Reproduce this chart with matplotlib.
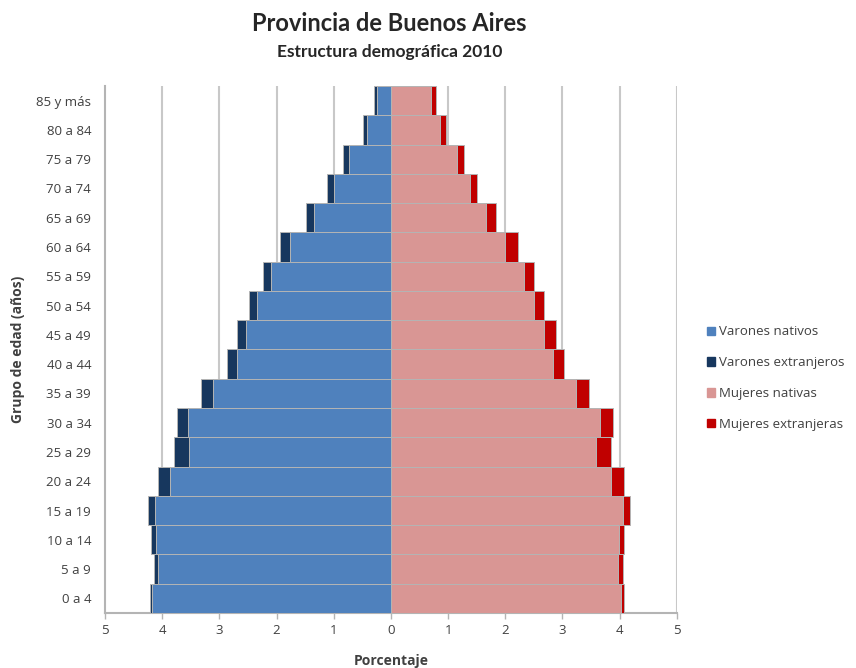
import numpy as np
import matplotlib.pyplot as plt
from matplotlib.patches import Patch

plt.rcParams['font.family'] = ['Lato', 'DejaVu Sans']
small = ['Open Sans', 'DejaVu Sans']

# grupos de edad (de abajo hacia arriba)
grupos = ['0 a 4', '5 a 9', '10 a 14', '15 a 19', '20 a 24', '25 a 29', '30 a 34',
          '35 a 39', '40 a 44', '45 a 49', '50 a 54', '55 a 59', '60 a 64',
          '65 a 69', '70 a 74', '75 a 79', '80 a 84', '85 y más']

# porcentajes sobre la población total
varones_nativos = [4.17, 4.08, 4.11, 4.12, 3.86, 3.54, 3.55, 3.12, 2.69, 2.54,
                   2.34, 2.09, 1.76, 1.35, 1.00, 0.74, 0.42, 0.25]
varones_extranjeros = [0.04, 0.07, 0.09, 0.12, 0.22, 0.26, 0.20, 0.20, 0.17, 0.16,
                       0.14, 0.15, 0.18, 0.14, 0.12, 0.09, 0.07, 0.05]
mujeres_nativas = [4.02, 3.97, 3.98, 4.05, 3.84, 3.58, 3.65, 3.24, 2.83, 2.68,
                   2.51, 2.33, 2.00, 1.66, 1.38, 1.16, 0.86, 0.70]
mujeres_extranjeras = [0.06, 0.08, 0.10, 0.13, 0.24, 0.27, 0.23, 0.23, 0.20, 0.20,
                       0.17, 0.17, 0.23, 0.18, 0.13, 0.11, 0.10, 0.09]

c_vn = '#4f81bd'
c_ve = '#17375e'
c_mn = '#d99694'
c_me = '#c00000'

fig = plt.figure(figsize=(8.56, 6.68), dpi=100)
ax = fig.add_axes([0.1227, 0.0823, 0.668, 0.789])

y = np.arange(len(grupos))
vn = np.array(varones_nativos)
mn = np.array(mujeres_nativas)
kw = dict(height=1.0, edgecolor='#b4b4b4', linewidth=0.7, zorder=3)
ax.barh(y, -vn, color=c_vn, **kw)
ax.barh(y, -np.array(varones_extranjeros), left=-vn, color=c_ve, **kw)
ax.barh(y, mn, color=c_mn, **kw)
ax.barh(y, mujeres_extranjeras, left=mn, color=c_me, **kw)

ax.set_xlim(-5, 5)
ax.set_ylim(-0.5, len(grupos) - 0.5)
ticks = np.arange(-5, 6)
ax.set_xticks(ticks)
ax.set_xticklabels([str(abs(t)) for t in ticks], color='#404040', fontsize=9.5, family=small)
ax.set_yticks(y)
ax.set_yticklabels(grupos, color='#404040', fontsize=9.5, family=small)

# líneas de grilla verticales
for t in ticks[1:]:
    ax.axvline(t, color='#c8c8c8', linewidth=1.5, zorder=1)

for s in ['top', 'right']:
    ax.spines[s].set_visible(False)
ax.spines['left'].set_color('#b4b4b4')
ax.spines['left'].set_linewidth(1.5)
ax.spines['bottom'].set_color('#b4b4b4')
ax.spines['bottom'].set_linewidth(1.5)
ax.tick_params(axis='y', length=0, pad=10)
ax.tick_params(axis='x', length=4, color='#b4b4b4', width=1, pad=4)

ax.set_xlabel('Porcentaje', fontsize=10, fontweight='bold', color='#404040', labelpad=12,
              family=small)
ax.set_ylabel('Grupo de edad (años)', fontsize=10, fontweight='bold', color='#404040',
              labelpad=8, family=small)

fig.text(0.455, 0.965, 'Provincia de Buenos Aires', ha='center', va='center',
         fontsize=17, fontweight='bold', color='#262626')
fig.text(0.455, 0.922, 'Estructura demográfica 2010', ha='center', va='center',
         fontsize=12.5, fontweight='bold', color='#262626')

handles = [Patch(color=c_vn, label='Varones nativos'),
           Patch(color=c_ve, label='Varones extranjeros'),
           Patch(color=c_mn, label='Mujeres nativas'),
           Patch(color=c_me, label='Mujeres extranjeras')]
leg = fig.legend(handles=handles, loc='center left', bbox_to_anchor=(0.812, 0.434),
                 frameon=False, prop={'family': small, 'size': 9.5}, handlelength=0.6,
                 handleheight=0.6, handletextpad=0.35, labelspacing=1.35)
for txt in leg.get_texts():
    txt.set_color('#404040')

fig.savefig('out.png', dpi=100, facecolor='white')
